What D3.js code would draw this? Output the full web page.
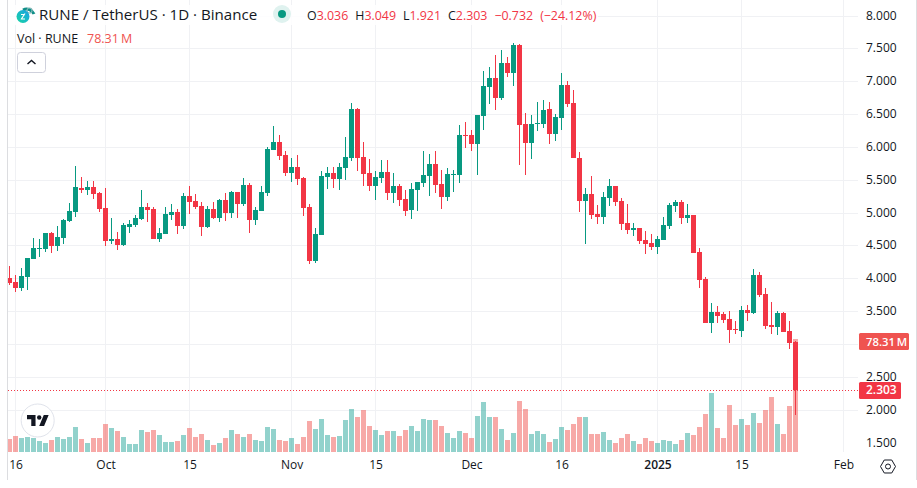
<!DOCTYPE html>
<html>
<head>
<meta charset="utf-8">
<script src="https://cdn.jsdelivr.net/npm/d3@7"></script>
<style>
  html, body { margin: 0; padding: 0; background: #fff; }
  svg { display: block; }
  text { font-family: "Open Sans", "Noto Sans", sans-serif; }
</style>
</head>
<body>
<svg id="chart" width="917" height="488"></svg>
<script>
// RUNE/USDT daily session values, one entry per day from 15 Sep 2024
const firstDay = "2024-09-15";
const opens = [
  4.005,3.944,3.852,4.020,4.294,4.446,4.446,4.690,4.492,4.613,
  4.872,5.009,5.375,5.344,5.390,5.298,5.070,4.568,4.598,4.507,
  4.781,4.811,4.903,5.085,5.055,4.598,4.674,4.964,5.009,4.796,
  5.253,5.177,5.101,4.781,5.055,4.918,5.192,4.994,5.313,5.131,
  5.420,4.887,5.024,5.298,5.953,6.074,5.877,5.603,5.694,5.526,
  5.085,4.263,4.659,5.542,5.603,5.511,5.679,5.831,6.577,5.846,
  5.603,5.405,5.526,5.618,5.298,5.405,5.207,5.039,5.344,5.450,
  5.557,5.740,5.435,5.237,5.572,5.572,6.181,6.181,6.044,6.470,
  6.911,7.048,6.744,7.277,7.124,7.551,6.348,6.059,6.348,6.348,
  6.576,6.196,6.439,6.942,6.668,5.831,5.176,5.283,4.978,4.932,
  5.222,5.404,5.177,4.842,4.735,4.766,4.583,4.537,4.476,4.583,
  4.796,5.100,5.161,4.918,4.963,4.400,3.989,3.320,3.487,3.456,
  3.380,3.228,3.198,3.517,3.472,4.050,3.761,3.289,3.259,3.472,
  3.198,3.036
];
const highs = [
  4.187,4.050,4.157,4.309,4.613,4.598,4.690,4.705,4.796,4.898,
  5.146,5.709,5.542,5.481,5.481,5.314,5.375,4.918,4.705,4.842,
  4.887,4.964,5.344,5.146,5.085,4.766,5.085,5.131,5.055,5.298,
  5.405,5.283,5.161,5.101,5.161,5.207,5.298,5.329,5.313,5.526,
  5.450,5.085,5.405,5.998,6.318,6.181,5.937,5.831,5.877,5.542,
  5.131,4.765,5.633,5.694,5.694,5.755,6.151,6.668,6.592,6.074,
  5.816,5.633,5.800,5.800,5.603,5.435,5.344,5.450,5.466,5.937,
  5.892,5.937,5.648,5.679,5.648,6.333,6.379,6.257,6.485,7.155,
  7.216,7.398,7.475,7.368,7.581,7.566,6.516,6.485,6.683,6.713,
  6.683,6.500,7.124,7.003,6.866,5.922,5.374,5.557,5.115,5.313,
  5.511,5.404,5.222,5.131,4.842,4.766,4.720,4.674,4.644,4.933,
  5.146,5.192,5.192,5.131,4.963,4.461,4.020,3.624,3.578,3.487,
  3.502,3.350,3.578,3.593,4.141,4.096,3.852,3.639,3.502,3.487,
  3.350,3.049
];
const lows = [
  3.898,3.791,3.807,3.822,4.294,4.324,4.400,4.385,4.416,4.522,
  4.857,4.933,5.298,5.268,5.207,5.009,4.492,4.522,4.431,4.492,
  4.690,4.781,4.887,4.857,4.598,4.553,4.674,4.887,4.674,4.750,
  4.979,5.055,4.644,4.766,4.903,4.857,4.872,4.918,4.918,5.100,
  4.689,4.811,5.024,5.252,5.953,5.800,5.557,5.466,5.420,4.948,
  4.217,4.233,4.659,5.359,5.374,5.344,5.496,5.785,5.633,5.405,
  5.329,5.192,5.450,5.192,5.146,5.100,4.948,4.902,5.024,5.389,
  5.252,5.298,5.055,5.176,5.313,5.450,5.983,5.937,5.572,6.257,
  6.653,6.561,6.713,7.064,6.927,5.724,5.572,5.815,6.242,6.287,
  6.044,6.089,6.257,6.607,5.831,5.009,4.521,4.902,4.826,4.826,
  5.100,5.100,4.735,4.674,4.644,4.522,4.370,4.431,4.370,4.583,
  4.750,5.009,4.826,4.842,4.385,3.852,3.320,3.167,3.320,3.320,
  3.015,3.152,3.106,3.350,3.457,3.715,3.228,3.152,3.137,3.182,
  2.924,1.921
];
const closes = [
  3.929,3.852,4.035,4.309,4.461,4.461,4.690,4.492,4.629,4.887,
  5.024,5.390,5.344,5.390,5.283,5.055,4.568,4.598,4.507,4.811,
  4.827,4.918,5.085,5.040,4.598,4.690,4.979,5.009,4.796,5.253,
  5.161,5.085,4.781,5.055,4.918,5.192,4.994,5.313,5.131,5.420,
  4.887,5.039,5.313,5.968,6.074,5.861,5.603,5.694,5.511,5.070,
  4.263,4.674,5.557,5.603,5.511,5.694,5.846,6.577,5.831,5.587,
  5.405,5.542,5.618,5.298,5.405,5.192,5.024,5.359,5.466,5.572,
  5.740,5.420,5.237,5.587,5.587,6.181,6.165,6.044,6.485,6.927,
  7.048,6.744,7.277,7.124,7.551,6.333,6.059,6.348,6.363,6.561,
  6.196,6.455,6.942,6.653,5.831,5.176,5.283,4.963,4.932,5.237,
  5.404,5.161,4.826,4.735,4.766,4.568,4.522,4.476,4.598,4.811,
  5.116,5.161,4.918,4.963,4.385,3.974,3.320,3.487,3.426,3.365,
  3.213,3.213,3.517,3.472,4.050,3.746,3.274,3.259,3.472,3.182,
  3.015,2.303
];
// Traded volume in millions of RUNE
const volumes = [
  9.0,11.1,9.7,10.4,9.7,7.6,6.2,8.3,10.4,9.0,
  10.4,17.3,9.0,6.2,9.7,9.7,19.4,16.6,14.5,10.4,
  5.5,5.5,15.2,13.9,15.2,11.8,6.9,6.9,7.6,11.8,
  16.6,10.4,12.5,8.3,4.8,6.2,9.7,15.2,12.5,10.4,
  12.5,8.3,7.6,17.3,15.9,8.3,7.6,9.7,5.5,10.4,
  21.5,15.9,22.9,11.8,10.4,11.1,22.2,29.8,24.2,29.1,
  18.0,15.2,11.8,14.5,14.5,11.1,15.2,18.0,14.5,22.9,
  22.2,22.2,18.0,13.2,9.7,14.5,13.2,9.7,24.9,34.6,
  24.2,24.2,15.9,8.3,13.2,35.3,29.8,12.5,14.5,12.5,
  6.9,9.0,17.3,15.2,19.4,24.2,24.2,12.5,12.5,13.9,
  8.3,6.2,9.7,12.5,7.6,5.5,9.7,7.6,6.2,8.3,
  7.6,5.5,8.3,13.2,11.8,17.3,26.3,40.9,16.6,9.7,
  32.6,18.7,22.9,18.7,27.0,20.1,29.1,38.1,19.4,12.5,
  31.9,78.31
];
const priceTicks = [8,7.5,7,6.5,6,5.5,5,4.5,4,3.5,2.5,2,1.5];
const gridPrices = [8,7.5,7,6.5,6,5.5,5,4.5,4,3.5,3,2.5,2];
const timeTickDates = ["2024-09-16","2024-10-01","2024-10-15","2024-11-01","2024-11-15","2024-12-01","2024-12-16","2025-01-01","2025-01-15","2025-02-01"];
const timeTickLabels = ["16","Oct","15","Nov","15","Dec","16","2025","15","Feb"];
const lastClose = 2.303;
const lastVolume = 78.31;
const volumeLabel = "78.31\u2009M";

const GREEN = "#089981", RED = "#f23645", VOL_RED = "#ef5350", INK = "#131722";
const parseDay = d3.utcParse("%Y-%m-%d");
const days = opens.map((_, i) => d3.utcDay.offset(parseDay(firstDay), i));

const svg = d3.select("#chart");
const paneRight = 858, paneLeft = 8, paneBottom = 452;

const x = d3.scaleUtc().domain([parseDay(firstDay), parseDay("2025-02-01")]).range([9.5, 843.5]);
const y = d3.scaleLinear().domain([8, 1.5]).rangeRound([15.5, 442.5]);
const v = d3.scaleLinear().domain([0, lastVolume]).range([paneBottom, 339]);

// Grid: vertical lines at the date ticks, horizontal at the price steps
const xGrid = d3.axisBottom(x).tickValues(timeTickDates.map(parseDay)).tickSize(-paneBottom).tickFormat("").tickSizeOuter(0);
const gx = svg.append("g").attr("transform", `translate(-0.5,${paneBottom})`).call(xGrid);
gx.select(".domain").remove();
gx.selectAll("line").attr("stroke", "#f0f1f4");

const yGrid = d3.axisRight(y).tickValues(gridPrices).tickSize(-(paneRight - paneLeft)).tickFormat("");
const gy = svg.append("g").attr("transform", `translate(${paneRight},0)`).call(yGrid);
gy.select(".domain").remove();
gy.selectAll("line").attr("stroke", "#f0f1f4");

// Volume histogram
svg.append("g").selectAll("rect").data(volumes).join("rect")
  .attr("x", (d, i) => x(days[i]) - 2.5)
  .attr("width", 5)
  .attr("y", d => Math.round(v(d)))
  .attr("height", d => paneBottom - Math.round(v(d)))
  .attr("fill", (d, i) => closes[i] >= opens[i] ? "rgba(38,166,154,0.5)" : "rgba(239,83,80,0.5)");

// Candles: wick, then body
const candles = svg.append("g").selectAll("g").data(days).join("g")
  .attr("fill", (d, i) => closes[i] >= opens[i] ? GREEN : RED);
candles.append("rect")
  .attr("x", d => x(d) - 0.5)
  .attr("width", 1)
  .attr("y", (d, i) => y(highs[i]))
  .attr("height", (d, i) => y(lows[i]) - y(highs[i]));
candles.append("rect")
  .attr("x", d => x(d) - 2.5)
  .attr("width", 5)
  .attr("y", (d, i) => y(Math.max(opens[i], closes[i])))
  .attr("height", (d, i) => Math.max(1, y(Math.min(opens[i], closes[i])) - y(Math.max(opens[i], closes[i]))));

// Last price line
svg.append("line")
  .attr("x1", paneLeft).attr("x2", paneRight)
  .attr("y1", y(lastClose) + 0.5).attr("y2", y(lastClose) + 0.5)
  .attr("stroke", RED).attr("stroke-dasharray", "1 2");

// Pane borders
svg.append("rect").attr("x", 7).attr("y", 0).attr("width", 1).attr("height", 480).attr("fill", "#dcdde0");
svg.append("rect").attr("x", 916).attr("y", 0).attr("width", 1).attr("height", 480).attr("fill", "#dcdde0");

// Price scale
const yAxis = d3.axisRight(y).tickValues(priceTicks).tickSize(0).tickPadding(8).tickFormat(d3.format(".3f"));
const ya = svg.append("g").attr("transform", `translate(${paneRight},0)`).call(yAxis);
ya.select(".domain").remove();
ya.selectAll("text").attr("fill", INK).attr("font-size", 12).attr("font-family", null);

// Time scale
const xAxis = d3.axisBottom(x).tickValues(timeTickDates.map(parseDay)).tickSize(0).tickPadding(0)
  .tickFormat((d, i) => timeTickLabels[i]);
const xa = svg.append("g").attr("transform", "translate(0,460)").call(xAxis);
xa.select(".domain").remove();
xa.selectAll("text").attr("fill", INK).attr("font-size", 12).attr("font-family", null)
  .attr("font-weight", (d, i) => timeTickLabels[i] === "2025" ? 600 : 400);

// Value tags on the price scale
function tag(yMid, width, fill, label, size) {
  const h = 17;
  svg.append("rect").attr("x", 859).attr("y", Math.round(yMid - h / 2)).attr("width", width).attr("height", h)
    .attr("rx", 1.5).attr("fill", fill);
  svg.append("text").attr("x", 866).attr("y", yMid + 4.2).attr("fill", "#fff")
    .attr("font-size", size).attr("font-weight", 600).text(label);
}
tag(y(3.036) - 0.5, 50, VOL_RED, volumeLabel, 11.3);
tag(y(lastClose), 42, RED, d3.format(".3f")(lastClose), 12);

// Legend backdrop and text
svg.append("rect").attr("x", 8).attr("y", 5).attr("width", 590).attr("height", 20).attr("fill", "rgba(255,255,255,0.85)");
svg.append("text").attr("x", 39).attr("y", 20).attr("font-size", 15.1).attr("fill", INK).text("RUNE / TetherUS · 1D · Binance");
svg.append("text").attr("x", 17).attr("y", 43).attr("font-size", 12.5).attr("fill", INK).text("Vol · RUNE");
svg.append("text").attr("x", 87).attr("y", 43).attr("font-size", 12.5).attr("fill", VOL_RED).text(volumeLabel);

const ohlc = svg.append("text").attr("x", 307).attr("y", 19.5).attr("font-size", 12.4).attr("fill", RED);
[["O", 3.036], ["H", 3.049], ["L", 1.921], ["C", 2.303]].forEach(([k, val], i) => {
  ohlc.append("tspan").attr("fill", INK).attr("dx", i ? 7 : 0).text(k);
  ohlc.append("tspan").text(d3.format(".3f")(val));
});
ohlc.append("tspan").attr("dx", 7).text("−0.732");
ohlc.append("tspan").attr("dx", 7).text("(−24.12%)");

// Market status dot
svg.append("circle").attr("cx", 282).attr("cy", 14).attr("r", 9).attr("fill", "#dff2ef");
svg.append("circle").attr("cx", 282).attr("cy", 14).attr("r", 4).attr("fill", GREEN);

// Coin badge
const defs = svg.append("defs");
const grad = defs.append("linearGradient").attr("id", "coin").attr("x1", 0).attr("y1", 1).attr("x2", 1).attr("y2", 0);
grad.append("stop").attr("offset", 0).attr("stop-color", "#17d6a2");
grad.append("stop").attr("offset", 1).attr("stop-color", "#1c9fe8");
svg.append("path").attr("d", "M23 10 A8 8 0 0 1 34 14").attr("fill", "none").attr("stroke", "#0f8f88").attr("stroke-width", 3);
svg.append("circle").attr("cx", 29.5).attr("cy", 10.5).attr("r", 2.5).attr("fill", "none").attr("stroke", "#7fb5b5").attr("stroke-width", 1.2);
svg.append("circle").attr("cx", 23).attr("cy", 16.5).attr("r", 6.5).attr("fill", "url(#coin)");
svg.append("path").attr("d", "M21 19.5 L25 13.5 M21 14.5 H24 M22 19 H25").attr("stroke", "#fff").attr("stroke-width", 1.2).attr("fill", "none");

// Collapse button
svg.append("rect").attr("x", 17.5).attr("y", 52.5).attr("width", 28).attr("height", 20).attr("rx", 3)
  .attr("fill", "#fff").attr("stroke", "#cfd1dc");
svg.append("path").attr("d", "M27.5 64 L31.5 60.5 L35.5 64").attr("fill", "none").attr("stroke", INK).attr("stroke-width", 1.4);

// Brand badge
svg.append("circle").attr("cx", 37.7).attr("cy", 420.5).attr("r", 16.5).attr("fill", "#fff").attr("stroke", "#e0e3eb").attr("stroke-width", 1);
const brand = svg.append("g").attr("transform", "translate(27,415) scale(0.61)").attr("fill", INK);
brand.append("path").attr("d", "M14 22H7V11H0V4h14v18zM28 22h-8l7.5-18h8L28 22z").attr("transform", "translate(0,-4)");
brand.append("circle").attr("cx", 20).attr("cy", 4).attr("r", 3.6);

// Scale settings button
const hex = d3.range(6).map(k => [888 + 7.5 * Math.cos(k * Math.PI / 3), 466.5 + 7.5 * Math.sin(k * Math.PI / 3)]);
svg.append("path").attr("d", d3.line()(hex) + "Z").attr("fill", "none").attr("stroke", INK);
svg.append("circle").attr("cx", 888).attr("cy", 466.5).attr("r", 2.5).attr("fill", "none").attr("stroke", INK);
</script>
</body>
</html>
